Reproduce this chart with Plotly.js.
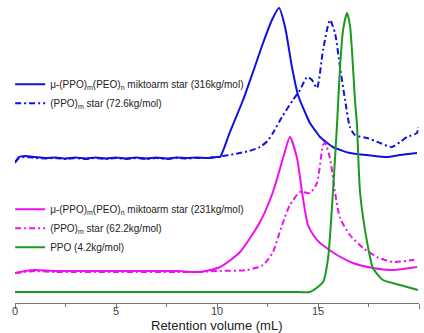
<!DOCTYPE html>
<html>
<head>
<meta charset="utf-8">
<script src="https://cdn.plot.ly/plotly-3.0.1.min.js"></script>
<style>html,body{margin:0;padding:0;background:#fff;}#chart{width:424px;height:333px;}</style>
</head>
<body>
<div id="chart"></div>
<script>
// Retention volume (mL) and detector signal (arbitrary units, offset traces)
const mikto316_x = [0, 0.2, 0.5, 1, 1.5, 2, 2.5, 3, 3.5, 4, 4.5, 5, 5.5, 6, 6.5, 7, 7.5, 8, 8.5, 9, 9.5, 10, 10.15, 10.64, 11.29, 11.8, 12.28, 12.72, 13.07, 13.37, 13.71, 14.01, 14.46, 14.6, 14.95, 15.1, 15.74, 16.58, 17.43, 18.42, 19.06, 19.9];
const mikto316_y = [140, 146, 147, 146, 145, 145.5, 144.5, 145.5, 144.5, 145.5, 144.5, 145.5, 144.5, 145.5, 144.5, 145.5, 144.5, 145.5, 145, 145.5, 145, 146, 146, 171, 203, 232, 260, 283, 295, 276, 236, 208, 186, 180, 170, 166, 156, 150, 148, 146, 148, 150];

const star726_x = [0, 0.2, 0.5, 1, 1.5, 2, 2.5, 3, 3.5, 4, 4.5, 5, 5.5, 6, 6.5, 7, 7.5, 8, 8.5, 9, 9.5, 10, 10.6, 11.14, 11.6, 12.13, 12.5, 12.77, 13.22, 13.76, 14.11, 14.46, 14.7, 14.95, 15.25, 15.59, 15.84, 16.09, 16.34, 16.58, 16.83, 17.43, 18.07, 18.66, 19.06, 19.41, 19.9, 19.95];
const star726_y = [141, 145, 146, 145, 144.5, 145, 144, 145, 144, 145, 144, 145, 144, 145, 144, 145, 144, 145, 144.5, 145, 145, 146, 148, 150, 152, 156, 162, 170, 186, 203, 213, 226, 223, 215, 253, 283, 270, 236, 203, 176, 168, 165, 160, 156, 161, 166, 170, 176];

const mikto231_x = [0, 0.5, 1, 2, 3, 4, 5, 6, 7, 8, 9.16, 10.15, 11.14, 12.13, 12.77, 13.27, 13.61, 13.96, 14.21, 14.5, 14.8, 15.1, 15.5, 15.94, 16.73, 17.72, 18.71, 19.9];
const mikto231_y = [30, 32, 33, 32, 32, 32, 32, 32, 32, 32, 31, 36, 51, 81, 111, 145, 166, 145, 111, 78, 67, 60, 54, 48, 40, 35, 33, 36];

const star622_x = [0, 0.5, 1, 2, 3, 4, 5, 6, 7, 8, 9, 10, 11.49, 12.28, 12.77, 13.22, 13.61, 14.11, 14.6, 14.95, 15.25, 15.35, 15.59, 15.84, 16.09, 16.58, 17.23, 17.92, 18.71, 19.7, 19.9];
const star622_y = [30, 31, 32, 31, 31, 31, 31, 31, 31, 31, 31, 32, 33, 38, 51, 78, 98, 111, 110, 120, 158, 160, 145, 111, 85, 68, 55, 46, 41, 43, 44];

const ppo42_x = [0, 2, 4, 6, 8, 10, 12, 14, 14.6, 15.25, 15.5, 15.74, 15.94, 16.09, 16.24, 16.44, 16.58, 16.68, 16.83, 16.93, 17.08, 17.43, 17.72, 18.22, 19.06, 19.95];
const ppo42_y = [11, 11, 11, 11, 11, 11, 11, 11, 11, 21, 45, 111, 178, 236, 273, 290, 278, 253, 203, 178, 111, 61, 35, 23, 18, 13];

const names = [
  "\u03bc-(PPO)<sub>m</sub>(PEO)<sub>n</sub> miktoarm star (316kg/mol)",
  "(PPO)<sub>m</sub> star (72.6kg/mol)",
  "\u03bc-(PPO)<sub>m</sub>(PEO)<sub>n</sub> miktoarm star (231kg/mol)",
  "(PPO)<sub>m</sub> star (62.2kg/mol)",
  "PPO (4.2kg/mol)"
];
const xTitle = "Retention volume (mL)";

const blue = "#1010e0", magenta = "#ee10ee", green = "#1c9a1c";
const dd = "6px,3px,2px,3px";

const traces = [
  {x: mikto316_x, y: mikto316_y, name: names[0], legend: "legend", line: {color: blue, width: 2, shape: "spline", smoothing: 0.6}},
  {x: star726_x, y: star726_y, name: names[1], legend: "legend", line: {color: blue, width: 2, dash: dd, shape: "spline", smoothing: 0.6}},
  {x: mikto231_x, y: mikto231_y, name: names[2], legend: "legend2", line: {color: magenta, width: 2, shape: "spline", smoothing: 0.6}},
  {x: star622_x, y: star622_y, name: names[3], legend: "legend2", line: {color: magenta, width: 2, dash: dd, shape: "spline", smoothing: 0.6}},
  {x: ppo42_x, y: ppo42_y, name: names[4], legend: "legend2", line: {color: green, width: 2, shape: "spline", smoothing: 0.6}}
].map(t => Object.assign({type: "scatter", mode: "lines"}, t));

const legendCommon = {
  xanchor: "left", yanchor: "top", bgcolor: "rgba(0,0,0,0)", borderwidth: 0,
  font: {family: "Liberation Sans, Arial, sans-serif", size: 10, color: "#222"},
  tracegroupgap: 0, itemwidth: 30
};

const layout = {
  width: 424, height: 333,
  margin: {l: 15, r: 5, t: 0, b: 30},
  paper_bgcolor: "#fff", plot_bgcolor: "#fff",
  font: {family: "Liberation Sans, Arial, sans-serif"},
  showlegend: true,
  legend: Object.assign({x: -0.012, y: 0.77}, legendCommon),
  legend2: Object.assign({x: -0.012, y: 0.357}, legendCommon),
  xaxis: {
    range: [0, 20], dtick: 5, tick0: 0,
    showgrid: false, zeroline: false,
    showline: true, linecolor: "#777", linewidth: 1,
    ticks: "outside", ticklen: 5, tickcolor: "#777", tickwidth: 1,
    minor: {dtick: 2.5, ticks: "outside", ticklen: 3, tickcolor: "#777"},
    tickfont: {size: 11, color: "#444"},
    ticklabelstandoff: -7
  },
  yaxis: {range: [0, 303], visible: false, fixedrange: true},
  annotations: [{
    text: xTitle, xref: "paper", yref: "paper", x: 0.5, y: -0.073,
    xanchor: "center", yanchor: "middle", showarrow: false,
    font: {size: 13, color: "#222"}
  }]
};

Plotly.newPlot("chart", traces, layout, {displayModeBar: false, staticPlot: true});
</script>
</body>
</html>
